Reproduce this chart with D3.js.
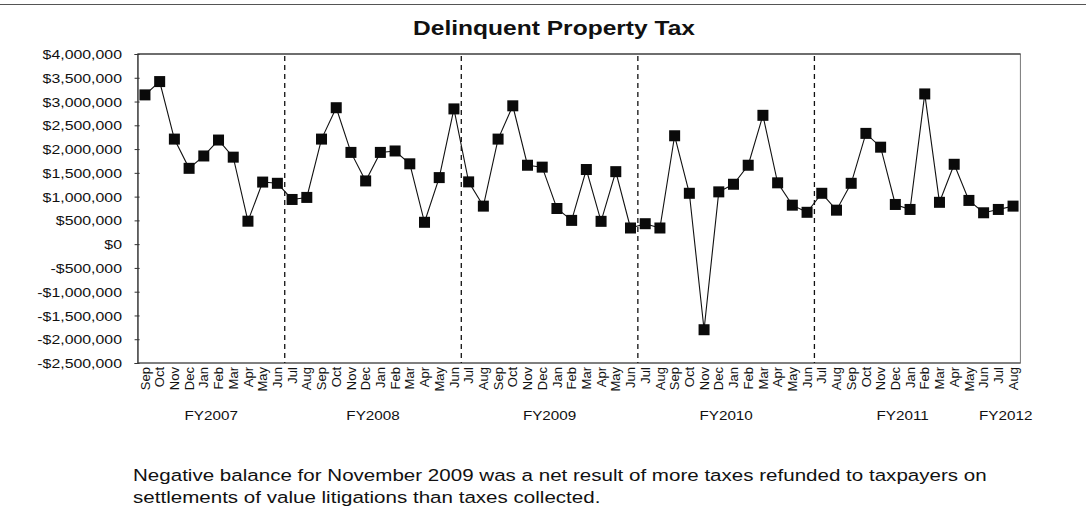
<!DOCTYPE html>
<html>
<head>
<meta charset="utf-8">
<script src="https://cdn.jsdelivr.net/npm/d3@7"></script>
<style>
  body { margin: 0; background: #fff; }
  text { font-family: "Liberation Sans", Arial, sans-serif; fill: #111; }
</style>
</head>
<body>
<svg id="chart" width="1086" height="524"></svg>
<script>
// months from Sep 2006 to Aug 2011
let months = ['Sep', 'Oct', 'Nov', 'Dec', 'Jan', 'Feb', 'Mar', 'Apr', 'May', 'Jun',
    'Jul', 'Aug', 'Sep', 'Oct', 'Nov', 'Dec', 'Jan', 'Feb', 'Mar', 'Apr', 'May', 'Jun',
    'Jul', 'Aug', 'Sep', 'Oct', 'Nov', 'Dec', 'Jan', 'Feb', 'Mar', 'Apr', 'May', 'Jun',
    'Jul', 'Aug', 'Sep', 'Oct', 'Nov', 'Dec', 'Jan', 'Feb', 'Mar', 'Apr', 'May', 'Jun',
    'Jul', 'Aug', 'Sep', 'Oct', 'Nov', 'Dec', 'Jan', 'Feb', 'Mar', 'Apr', 'May', 'Jun',
    'Jul', 'Aug'];

let taxes = [3140000, 3420000, 2210000, 1595000, 1855000, 2190000, 1830000, 483000, 1306000, 1280000,
    940000, 983000, 2210000, 2870000, 1930000, 1330000, 1930000, 1960000, 1690000, 460000, 1400000, 2845000,
    1310000, 800000, 2210000, 2910000, 1660000, 1620000, 750000, 500000, 1570000, 480000, 1525000, 340000,
    430000, 340000, 2280000, 1070000, -1800000, 1100000, 1260000, 1660000, 2710000, 1290000, 820000, 670000,
    1070000, 715000, 1280000, 2330000, 2040000, 835000, 730000, 3160000, 880000, 1680000, 920000, 660000,
    730000, 800000];

let fiscalYears = ['FY2007', 'FY2008', 'FY2009', 'FY2010', 'FY2011', 'FY2012'];
let fyMonthCount = [10, 12, 12, 12, 12, 2];
// dashed separators drawn after these fiscal years
let dashedAfter = ['FY2007', 'FY2008', 'FY2009', 'FY2010'];

let yTicks = d3.range(-2500000, 4000001, 500000);

let noteLines = ['Negative balance for November 2009 was a net result of more taxes refunded to taxpayers on',
    'settlements of value litigations than taxes collected.'];

// the scanned chart is a bit wider than tall, so text gets stretched sideways
let stretch = 1.22;

let svg = d3.select('#chart');

// scanned page edge at the very top
svg.append('line')
    .attr('x1', 0).attr('x2', 1086)
    .attr('y1', 4.5).attr('y2', 4.5)
    .attr('stroke', '#555')
    .attr('stroke-width', 1.2);

let plotLeft = 137.6, plotRight = 1020.4, plotTop = 54, plotBottom = 363;

let x = d3.scaleBand()
    .domain(d3.range(months.length))
    .range([plotLeft, plotRight])
    .padding(0);

let y = d3.scaleLinear()
    .domain([-2500000, 4000000])
    .range([plotBottom, plotTop]);

// Title
svg.append('text')
    .attr('transform', 'translate(554,35) scale(1.26,1)')
    .attr('text-anchor', 'middle')
    .attr('font-size', '19.5px')
    .attr('font-weight', 'bold')
    .text('Delinquent Property Tax');

// plot frame
svg.append('rect')
    .attr('x', plotLeft).attr('y', plotTop)
    .attr('width', plotRight - plotLeft).attr('height', plotBottom - plotTop)
    .attr('fill', 'none')
    .attr('stroke', '#777')
    .attr('stroke-width', 1);

svg.append('line')
    .attr('x1', plotLeft).attr('x2', plotRight)
    .attr('y1', plotTop).attr('y2', plotTop)
    .attr('stroke', '#222');

// y axis
let fmt = d3.format(',');
let yAxis = svg.append('g')
    .attr('transform', 'translate(' + plotLeft + ',0)')
    .call(d3.axisLeft(y)
        .tickValues(yTicks)
        .tickSize(3)
        .tickFormat(d => (d < 0 ? '-' : '') + '$' + fmt(Math.abs(d))));

yAxis.select('.domain').attr('stroke', '#222');
yAxis.selectAll('.tick line').attr('x2', 2).attr('x1', -3).attr('stroke', '#333');
yAxis.selectAll('.tick text')
    .attr('x', -12.8)
    .attr('dy', '0.35em')
    .attr('transform', 'scale(' + stretch + ',1)')
    .attr('font-size', '13px')
    .attr('font-family', '"Liberation Sans", Arial, sans-serif')
    .attr('fill', '#111');

// x axis line
svg.append('line')
    .attr('x1', plotLeft).attr('x2', plotRight)
    .attr('y1', plotBottom).attr('y2', plotBottom)
    .attr('stroke', '#444');

// fiscal year groups
let fyStart = [];
let acc = 0;
fyMonthCount.forEach(c => { fyStart.push(acc); acc += c; });

// dashed separators
svg.selectAll('.sep')
    .data(dashedAfter)
    .join('line')
    .attr('class', 'sep')
    .attr('x1', d => { let i = fiscalYears.indexOf(d); return x(fyStart[i] + fyMonthCount[i]); })
    .attr('x2', d => { let i = fiscalYears.indexOf(d); return x(fyStart[i] + fyMonthCount[i]); })
    .attr('y1', plotTop + 2).attr('y2', plotBottom)
    .attr('stroke', '#111')
    .attr('stroke-width', 1.3)
    .attr('stroke-dasharray', '5,4');

// month labels
svg.selectAll('.month')
    .data(months)
    .join('text')
    .attr('class', 'month')
    .attr('transform', (d, i) => 'translate(' + (x(i) + x.bandwidth() / 2) + ',' + (plotBottom + 4) + ') rotate(-90)')
    .attr('dy', '0.36em')
    .attr('text-anchor', 'end')
    .attr('font-size', '13px')
    .text(d => d);

// fiscal year labels
svg.selectAll('.fy')
    .data(fiscalYears)
    .join('text')
    .attr('class', 'fy')
    .attr('transform', (d, i) => {
        let cx = (x(fyStart[i]) + x(fyStart[i] + fyMonthCount[i] - 1) + x.bandwidth()) / 2;
        return 'translate(' + cx + ',420) scale(' + stretch + ',1)';
    })
    .attr('text-anchor', 'middle')
    .attr('font-size', '12.5px')
    .text(d => d);

// line
let line = d3.line()
    .x((d, i) => x(i) + x.bandwidth() / 2)
    .y(d => y(d));

svg.append('path')
    .datum(taxes)
    .attr('d', line)
    .attr('fill', 'none')
    .attr('stroke', '#111')
    .attr('stroke-width', 1.1);

// square markers
let size = 11;
svg.selectAll('.pt')
    .data(taxes)
    .join('rect')
    .attr('class', 'pt')
    .attr('x', (d, i) => x(i) + x.bandwidth() / 2 - size / 2)
    .attr('y', d => y(d) - size / 2)
    .attr('width', size)
    .attr('height', size)
    .attr('fill', '#0a0a0a');

// footnote
svg.selectAll('.note')
    .data(noteLines)
    .join('text')
    .attr('class', 'note')
    .attr('transform', (d, i) => 'translate(133,' + (481 + i * 22) + ') scale(1.21,1)')
    .attr('font-size', '17px')
    .text(d => d);
</script>
</body>
</html>
